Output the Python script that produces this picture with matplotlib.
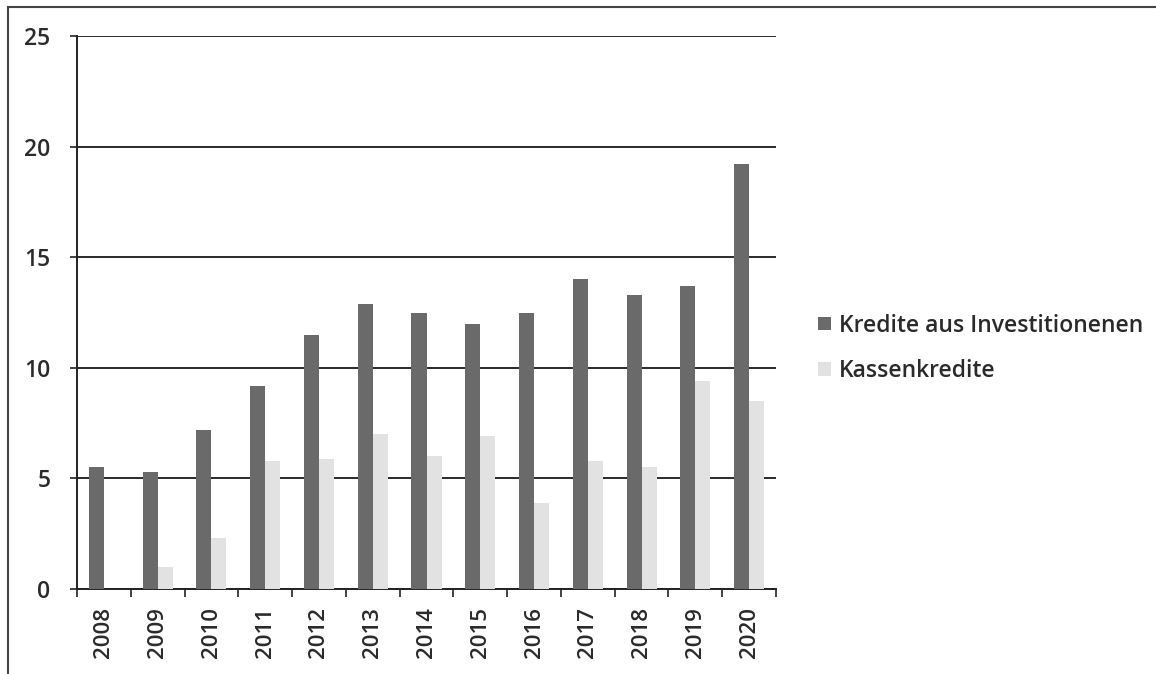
import numpy as np
import matplotlib.pyplot as plt
from matplotlib.lines import Line2D

# data
years = ["2008", "2009", "2010", "2011", "2012", "2013", "2014",
         "2015", "2016", "2017", "2018", "2019", "2020"]
invest = [5.5, 5.3, 7.2, 9.2, 11.5, 12.9, 12.5, 12.0, 12.5, 14.0, 13.3, 13.7, 19.2]
kasse = [0.0, 1.0, 2.3, 5.8, 5.9, 7.0, 6.0, 6.9, 3.9, 5.8, 5.5, 9.4, 8.5]

plt.rcParams["font.family"] = ["Open Sans", "DejaVu Sans"]
plt.rcParams["font.weight"] = "semibold"

fig = plt.figure(figsize=(11.56, 6.74), dpi=100)
ax = fig.add_axes([0.0666, 0.126, 0.6047, 0.8206])

x = np.arange(len(years))
w = 0.28
ax.bar(x - w / 2, invest, w, color="#6a6a6a", label="Kredite aus Investitionenen", zorder=3)
ax.bar(x + w / 2, kasse, w, color="#e2e2e2", label="Kassenkredite", zorder=3)

ax.set_xlim(-0.5, len(years) - 0.5)
ax.set_ylim(0, 25)
ax.set_yticks([0, 5, 10, 15, 20, 25])
ax.yaxis.grid(True, color="#2a2a2a", lw=1.4, zorder=1)
ax.set_axisbelow(True)

# x ticks at category boundaries, labels at centres
ax.set_xticks(np.arange(-0.5, len(years), 1.0))
ax.set_xticklabels([])
ax.set_xticks(x, minor=True)
ax.set_xticklabels(years, minor=True, rotation=90, fontsize=16, color="#2a2a2a")
ax.tick_params(axis="x", which="minor", length=0, pad=13)
ax.tick_params(axis="x", which="major", length=6, width=1.2, color="#222222")
ax.tick_params(axis="y", length=5, width=1.2, color="#222222", labelsize=16.5,
               labelcolor="#2a2a2a", pad=14)

for s in ["top", "right"]:
    ax.spines[s].set_visible(False)
ax.spines["left"].set_color("#222222")
ax.spines["left"].set_linewidth(1.4)
ax.spines["bottom"].set_color("#222222")
ax.spines["bottom"].set_linewidth(1.4)

fig.legend(loc="center left", bbox_to_anchor=(0.69, 0.483), frameon=False,
           fontsize=16.5, handlelength=0.55, handleheight=0.55, handletextpad=0.35,
           labelspacing=0.95, labelcolor="#2a2a2a")

# outer border (top and left as in the scan)
fig.add_artist(Line2D([8 / 1156, 1], [1 - 7 / 674, 1 - 7 / 674], color="#444444", lw=1.5))
fig.add_artist(Line2D([8 / 1156, 8 / 1156], [0, 1 - 7 / 674], color="#444444", lw=1.5))

plt.savefig("out.png", dpi=100)
